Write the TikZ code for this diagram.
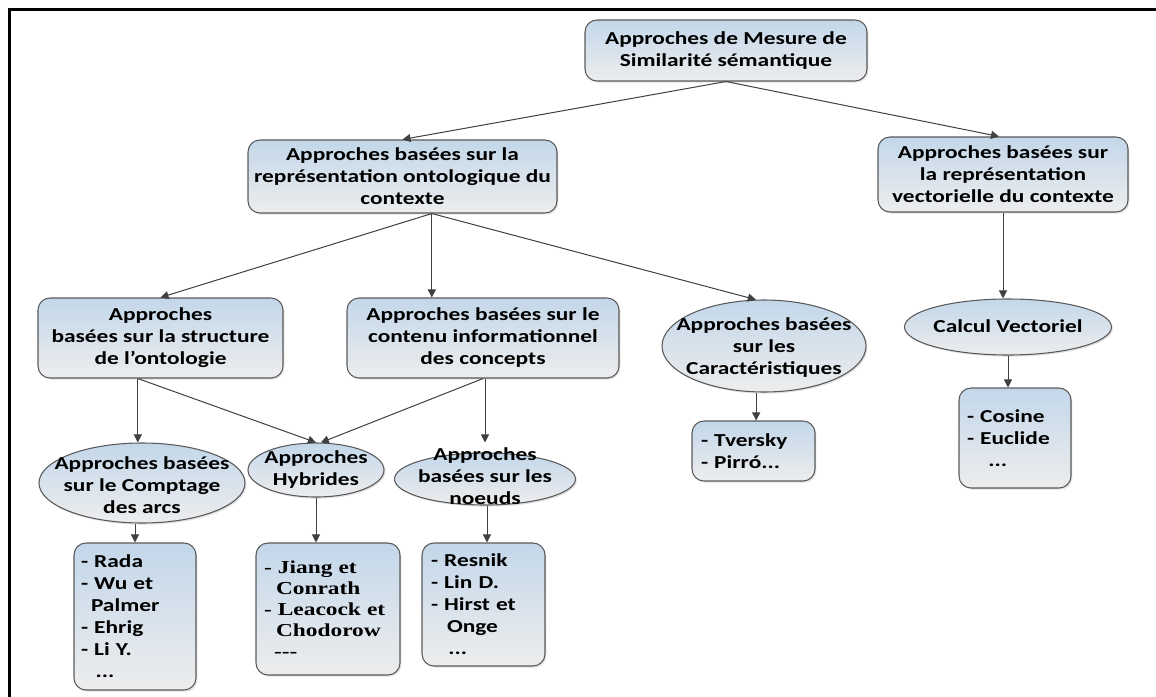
\documentclass[tikz,border=0pt]{standalone}
\usepackage{fontspec}
\setmainfont{Carlito}[FakeStretch=1.28]
\newfontfamily\timesbold{Liberation Serif}[FakeStretch=1.28]
\usetikzlibrary{arrows.meta,shapes.geometric,shadows}

\definecolor{boxtop}{HTML}{C3D7EA}
\definecolor{boxbot}{HTML}{EDEDED}
\definecolor{edgegray}{HTML}{5A5A5A}
\definecolor{arrowgray}{HTML}{404040}

\begin{document}
\begin{tikzpicture}[x=0.75pt,y=-0.75pt,
  txt/.style={font=\bfseries\fontsize{13.7pt}{16.5pt}\selectfont, align=center, inner sep=0pt},
  base/.style={draw=edgegray, line width=0.8pt, top color=boxtop, bottom color=boxbot, txt,
    drop shadow={shadow xshift=1pt, shadow yshift=-1.2pt, fill=black!30, opacity=0.4}},
  rbox/.style={base, rectangle, rounded corners=9pt},
  ell/.style={base, ellipse},
  etext/.style={txt},
  listbox/.style={rbox, align=left, inner ysep=0pt},
  link/.style={draw=arrowgray, line width=0.75pt, -{Triangle[length=6pt,width=6pt]}},
]
\useasboundingbox (0,0) rectangle (1156,696);

% frame
\draw[line width=2.3pt, line cap=rect] (9.5,696) -- (9.5,9.5) -- (1156,9.5);

% first level
\node[rbox, minimum width=211.5pt, minimum height=45.75pt] (top) at (726,50.5)
  {Approches de Mesure de\\Similarité sémantique};

% second level
\node[rbox, minimum width=231.75pt, minimum height=54.75pt] (ont) at (402.5,176.5)
  {Approches basées sur la\\représentation ontologique du\\contexte};
\node[rbox, minimum width=187.5pt, minimum height=56.25pt] (vect) at (1003,174.5)
  {Approches basées sur\\la représentation\\vectorielle du contexte};

% third level
\node[rbox, minimum width=183.75pt, minimum height=60pt] (struct) at (160.5,338)
  {Approches\\basées sur la structure\\de l’ontologie};
\node[rbox, minimum width=204pt, minimum height=60pt] (contenu) at (483,338)
  {Approches basées sur le\\contenu informationnel\\des concepts};
\node[ell, minimum width=153pt, minimum height=69pt,
  label={[etext, yshift=-1pt]center:{Approches basées\\sur les\\Caractéristiques}}] (caract) at (764,346) {};
\node[ell, minimum width=155.25pt, minimum height=42pt,
  label={[etext, yshift=1pt]center:{Calcul Vectoriel}}] (calcul) at (1008,327) {};

% fourth level
\node[ell, minimum width=154.5pt, minimum height=60pt,
  label={[etext, yshift=-1.5pt]center:{Approches basées\\sur le Comptage\\des arcs}}] (comptage) at (142,483) {};
\node[ell, minimum width=102pt, minimum height=40.5pt,
  label={[etext]center:{Approches\\Hybrides}}] (hybrides) at (316,470) {};
\node[ell, minimum width=135.75pt, minimum height=39pt,
  label={[etext, yshift=2pt]center:{Approches\\basées sur les\\noeuds}}] (noeuds) at (485,479) {};

% lists of measures
\node[listbox, inner xsep=5.25pt, text width=81pt, minimum height=110.25pt] (rada) at (135,616.5)
  {- Rada\\- Wu et\\\hspace*{7.5pt}Palmer\\- Ehrig\\- Li Y.\\\hspace*{11pt}...};
\node[listbox, inner xsep=6pt, text width=96pt, minimum height=99pt,
  font=\timesbold\bfseries\fontsize{13.7pt}{15.75pt}\selectfont] (jiang) at (328,609)
  {- Jiang et\\\hspace*{9pt}Conrath\\- Leacock et\\\hspace*{9pt}Chodorow\\\hspace*{7.5pt}-{}-{}-};
\node[listbox, inner xsep=6.75pt, text width=78.75pt, minimum height=92.25pt] (resnik) at (483.5,604.5)
  {- Resnik\\- Lin D.\\- Hirst et\\\hspace*{12pt}Onge\\\hspace*{13pt}...};
\node[listbox, inner xsep=6.75pt, text width=78.75pt, minimum height=45pt] (tversky) at (753.5,451)
  {- Tversky\\- Pirró...};
\node[listbox, inner xsep=6pt, text width=72pt, minimum height=75pt] (cosine) at (1015,438)
  {- Cosine\\- Euclide\\\hspace*{16pt}...};

% connectors
\draw[link] (top.south) -- (ont.north);
\draw[link] (top.south) -- ([xshift=-3pt]vect.north);

\draw[link] ([xshift=22pt]ont.south) -- (struct.north);
\draw[link] ([xshift=22pt]ont.south) -- ([xshift=22pt]ont.south |- contenu.north);
\draw[link] ([xshift=22pt]ont.south) -- (caract.100);

\draw[link] (vect.south) -- (vect.south |- calcul.north);

\draw[link] ([xshift=-17pt]struct.south) -- ([xshift=-17pt]struct.south |- comptage.north);
\draw[link] ([xshift=-17pt]struct.south) -- (hybrides.north);
\draw[link] (contenu.south) -- (hybrides.80);
\draw[link] ([xshift=1.5pt]contenu.south) -- ([xshift=1.5pt,yshift=7.5pt]contenu.south |- noeuds.north);

\draw[link] (rada.north |- comptage.south) -- (rada.north);
\draw[link] (hybrides.south) -- (hybrides.south |- jiang.north);
\draw[link] ([xshift=1.5pt]noeuds.south) -- ([xshift=1.5pt]noeuds.south |- resnik.north);
\draw[link] ([xshift=2pt]tversky.north |- caract.south) -- ([xshift=2pt]tversky.north);
\draw[link] (calcul.south) -- (calcul.south |- cosine.north);
\end{tikzpicture}
\end{document}
